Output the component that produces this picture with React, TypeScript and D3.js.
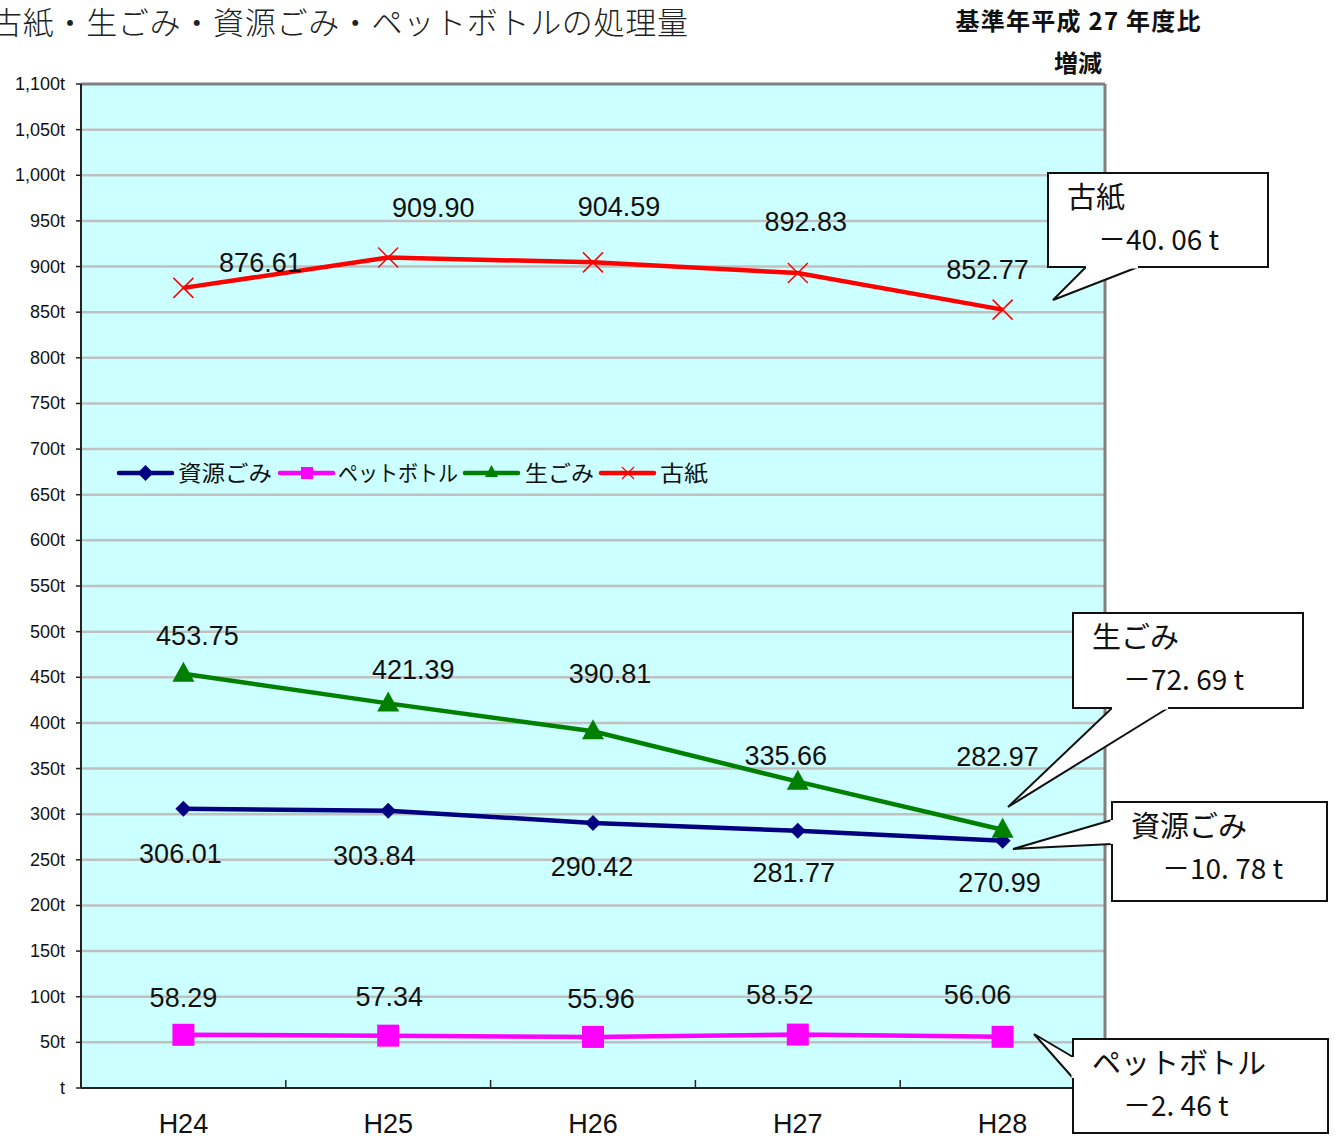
import React from "react";
import * as d3 from "d3";

const categories = ["H24", "H25", "H26", "H27", "H28"];
const shigen = [306.01, 303.84, 290.42, 281.77, 270.99];
const pet = [58.29, 57.34, 55.96, 58.52, 56.06];
const nama = [453.75, 421.39, 390.81, 335.66, 282.97];
const koshi = [876.61, 909.9, 904.59, 892.83, 852.77];
const yTicks = d3.range(0, 1101, 50);
const seriesNames = ["資源ごみ", "ペットボトル", "生ごみ", "古紙"];

// label nudges (pixels, dx/dy from point to label centre)
const shigenNudge = [[-3, 44], [-14, 44], [-1, 43], [-4, 41], [-3, 41]];
const petNudge = [[0, -38], [1, -40], [8, -39], [-18, -41], [-25, -43]];
const namaNudge = [[14, -39], [25, -34], [17, -58], [-12, -27], [-5, -74]];
const koshiNudge = [[77, -26], [45, -51], [26, -56], [8, -52], [-15, -41]];

const W = 1336, H = 1140;
const plot = { left: 81, right: 1105, top: 84, bottom: 1088 };

const NUM_FONT = "'Liberation Sans', Arial, sans-serif";
const JP_FONT = "'Noto Sans CJK JP', 'Noto Sans', sans-serif";

type Callout = { title: string; value: string; box: [number, number, number, number]; ptr: [number, number][] };
const callouts: Callout[] = [
  { title: "古紙", value: "－40. 06 t", box: [1048, 173, 1268, 267], ptr: [[1086, 267], [1053, 300], [1138, 267]] },
  { title: "生ごみ", value: "－72. 69 t", box: [1073, 613, 1303, 708], ptr: [[1112, 708], [1008, 807], [1168, 708]] },
  { title: "資源ごみ", value: "－10. 78 t", box: [1112, 802, 1327, 901], ptr: [[1112, 820], [1013, 849], [1112, 844]] },
  { title: "ペットボトル", value: "－2. 46 t", box: [1073, 1039, 1328, 1133], ptr: [[1073, 1057], [1034, 1034], [1073, 1078]] },
];

function Marker({ kind, x, y, color }: { kind: string; x: number; y: number; color: string }) {
  if (kind === "diamond") {
    const s = 8;
    return <path d={`M${x},${y - s}L${x + s},${y}L${x},${y + s}L${x - s},${y}Z`} fill={color} />;
  }
  if (kind === "square") {
    const s = 11;
    return <rect x={x - s} y={y - s} width={2 * s} height={2 * s} fill={color} />;
  }
  if (kind === "triangle") {
    return <path d={`M${x},${y - 12}L${x + 11},${y + 8}L${x - 11},${y + 8}Z`} fill={color} />;
  }
  const s = 10;
  return (
    <path d={`M${x - s},${y - s}L${x + s},${y + s}M${x - s},${y + s}L${x + s},${y - s}`} stroke={color} strokeWidth={1.5} fill="none" />
  );
}

export default function App() {
  const x = d3.scaleBand<string>().domain(categories).range([plot.left, plot.right]);
  const cx = (c: string) => (x(c) as number) + x.bandwidth() / 2;
  const y = d3.scaleLinear().domain([0, 1100]).range([plot.bottom, plot.top]);
  const line = d3.line<[number, number]>().x((d) => d[0]).y((d) => d[1]);

  const series = [
    { name: seriesNames[0], values: shigen, color: "#000080", marker: "diamond", nudge: shigenNudge },
    { name: seriesNames[1], values: pet, color: "#FF00FF", marker: "square", nudge: petNudge },
    { name: seriesNames[2], values: nama, color: "#008000", marker: "triangle", nudge: namaNudge },
    { name: seriesNames[3], values: koshi, color: "#FF0000", marker: "x", nudge: koshiNudge },
  ];

  const legendItems = [
    { lx: 119, tx: 178, tw: 94 },
    { lx: 280, tx: 338, tw: 120 },
    { lx: 465, tx: 525, tw: 69 },
    { lx: 601, tx: 660, tw: 48 },
  ];

  return (
    <svg width={W} height={H} style={{ position: "absolute", left: 0, top: 0, background: "#fff" }}>
      {/* title */}
      <text x={-9} y={34} fontFamily={JP_FONT} fontSize={31} fill="#222" textLength={697} lengthAdjust="spacing" fontWeight={300}>
        古紙・生ごみ・資源ごみ・ペットボトルの処理量
      </text>
      <text x={1078} y={30} textAnchor="middle" fontFamily={JP_FONT} fontSize={24} fontWeight={700} fill="#111" textLength={245} lengthAdjust="spacing">
        基準年平成 27 年度比
      </text>
      <text x={1078} y={72} textAnchor="middle" fontFamily={JP_FONT} fontSize={24} fontWeight={700} fill="#111">
        増減
      </text>

      {/* plot area */}
      <rect x={plot.left} y={plot.top} width={plot.right - plot.left} height={plot.bottom - plot.top} fill="#CCFFFF" />
      {yTicks.filter((t) => t > 0 && t < 1100).map((t) => (
        <line key={t} x1={plot.left} x2={plot.right} y1={y(t)} y2={y(t)} stroke="#C0C0C0" strokeWidth={2.5} />
      ))}
      <line x1={plot.left} x2={plot.right} y1={plot.top} y2={plot.top} stroke="#808080" strokeWidth={3} />
      <line x1={plot.right} x2={plot.right} y1={plot.top} y2={plot.bottom} stroke="#808080" strokeWidth={3} />
      <line x1={plot.left} x2={plot.left} y1={plot.top} y2={plot.bottom} stroke="#222" strokeWidth={2} />
      <line x1={plot.left} x2={plot.right} y1={plot.bottom} y2={plot.bottom} stroke="#222" strokeWidth={2} />

      {/* y ticks and labels */}
      {yTicks.map((t) => (
        <g key={t}>
          <line x1={plot.left - 5} x2={plot.left} y1={y(t)} y2={y(t)} stroke="#222" strokeWidth={1.5} />
          <text x={65} y={y(t) + 6} textAnchor="end" fontFamily={NUM_FONT} fontSize={18} fill="#111">
            {t === 0 ? "t" : d3.format(",")(t) + "t"}
          </text>
        </g>
      ))}

      {/* x ticks and labels */}
      {categories.slice(1).map((c) => (
        <line key={c} x1={x(c) as number} x2={x(c) as number} y1={plot.bottom} y2={plot.bottom - 8} stroke="#222" strokeWidth={1.5} />
      ))}
      {categories.map((c) => (
        <text key={c} x={cx(c)} y={1133} textAnchor="middle" fontFamily={NUM_FONT} fontSize={27} fill="#111">
          {c}
        </text>
      ))}

      {/* series */}
      {series.map((s) => {
        const pts: [number, number][] = s.values.map((v, i) => [cx(categories[i]), y(v)]);
        return (
          <g key={s.name}>
            <path d={line(pts) || ""} fill="none" stroke={s.color} strokeWidth={4.5} />
            {pts.map((p, i) => (
              <Marker key={i} kind={s.marker} x={p[0]} y={p[1]} color={s.color} />
            ))}
            {pts.map((p, i) => (
              <text key={"l" + i} x={p[0] + s.nudge[i][0]} y={p[1] + s.nudge[i][1] + 10} textAnchor="middle" fontFamily={NUM_FONT} fontSize={27} fill="#111">
                {s.values[i].toFixed(2)}
              </text>
            ))}
          </g>
        );
      })}

      {/* legend */}
      {series.map((s, i) => {
        const lx = legendItems[i].lx;
        return (
          <g key={"lg" + s.name}>
            <line x1={lx} x2={lx + 53} y1={473} y2={473} stroke={s.color} strokeWidth={4.5} strokeLinecap="round" />
            {s.marker === "diamond" ? (
              <Marker kind="diamond" x={lx + 26.5} y={473} color={s.color} />
            ) : s.marker === "square" ? (
              <rect x={lx + 21} y={467} width={12} height={12} fill={s.color} />
            ) : s.marker === "triangle" ? (
              <path d={`M${lx + 26.5},${465}L${lx + 33},${477}L${lx + 20},${477}Z`} fill={s.color} />
            ) : (
              <path d={`M${lx + 21},${467}L${lx + 33},${479}M${lx + 21},${479}L${lx + 33},${467}`} stroke={s.color} strokeWidth={1.2} />
            )}
            <text x={legendItems[i].tx} y={481} fontFamily={JP_FONT} fontSize={22} fill="#111" textLength={legendItems[i].tw} lengthAdjust="spacingAndGlyphs">
              {s.name}
            </text>
          </g>
        );
      })}

      {/* callouts */}
      {callouts.map((c) => {
        const [x0, y0, x1, y1] = c.box;
        return (
          <g key={c.title}>
            <rect x={x0} y={y0} width={x1 - x0} height={y1 - y0} fill="#fff" stroke="#111" strokeWidth={2} />
            <path d={`M${c.ptr[0][0]},${c.ptr[0][1]}L${c.ptr[1][0]},${c.ptr[1][1]}L${c.ptr[2][0]},${c.ptr[2][1]}`} fill="#fff" stroke="#111" strokeWidth={2} />
            <line x1={c.ptr[0][0]} y1={c.ptr[0][1]} x2={c.ptr[2][0]} y2={c.ptr[2][1]} stroke="#fff" strokeWidth={3} />
            <text x={x0 + 19} y={y0 + 35} fontFamily={JP_FONT} fontSize={29} fill="#111">
              {c.title}
            </text>
            <text x={x0 + 50} y={y0 + 77} fontFamily={JP_FONT} fontSize={28} fill="#111">
              {c.value}
            </text>
          </g>
        );
      })}
    </svg>
  );
}
